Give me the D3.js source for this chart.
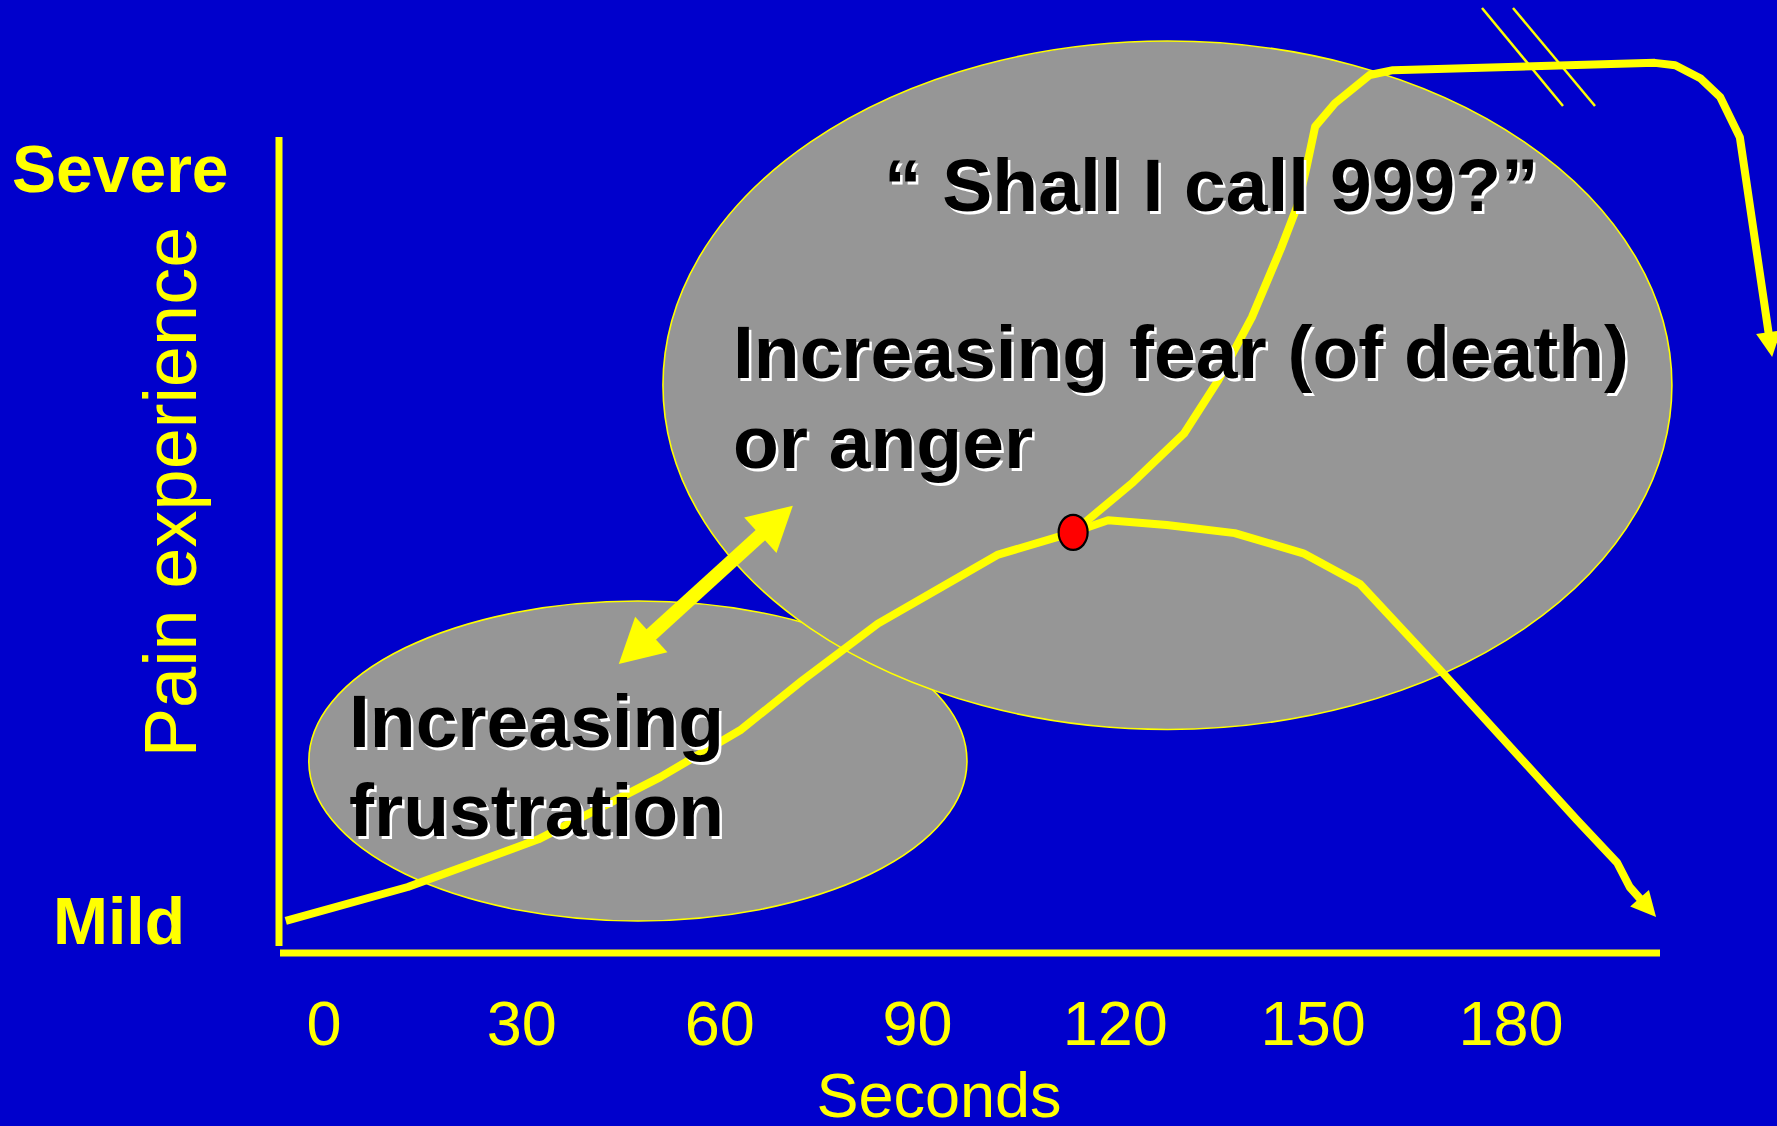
<!DOCTYPE html>
<html>
<head>
<meta charset="utf-8">
<script src="https://cdn.jsdelivr.net/npm/d3@7"></script>
<style>
  html, body { margin: 0; padding: 0; background: #0000cc; overflow: hidden; }
  svg { display: block; }
</style>
</head>
<body>
<svg id="chart" width="1777" height="1126"></svg>
<script>
// ---- data (x: seconds, y: pain experience, 0 = mild … 100 = severe) ----
const secondTicks = [0, 30, 60, 90, 120, 150, 180];
const painLabels = ["Mild", "Severe"];

// pain builds up until the turning point
const rising = [
  [-5.8, 3.1], [12.7, 7.3], [32.5, 13.2], [51.0, 20.9], [63.1, 26.7],
  [72.6, 32.9], [84.0, 39.9], [93.6, 44.4], [102.1, 48.4], [113.6, 51.2]
];
// escalation: pain keeps climbing off the scale
const escalation = [
  [113.6, 51.2], [122.7, 57.4], [130.4, 63.4], [135.6, 70.0], [140.7, 77.8],
  [145.1, 86.3], [147.7, 91.8], [149.0, 96.4], [150.3, 101.4], [153.3, 104.3],
  [158.6, 107.8], [162.1, 108.4], [201.8, 109.3], [204.9, 109.0], [208.7, 107.4],
  [211.7, 105.1], [214.7, 100.1], [219.6, 72.9]
];
// relief: pain eases off after the turning point
const relief = [
  [113.6, 51.2], [118.9, 52.7], [127.8, 52.1], [138.1, 51.1], [148.5, 48.6],
  [157.1, 44.8], [169.1, 34.3], [190.0, 15.6], [196.1, 10.3], [198.0, 7.3],
  [202.0, 3.6]
];
const turningPoint = [113.6, 51.2];

// emotional zones (centre and half-extent, in seconds / pain units)
const zoneFrustration = { cx: 47.6, cy: 22.9, rx: 49.9, ry: 19.8 };
const zoneFear = { cx: 127.9, cy: 69.4, rx: 76.5, ry: 42.6 };
const zoneLink = [[44.7, 34.9], [71.1, 54.5]];

// ---- layout ----
const W = 1777, H = 1126;
const BLUE = "#0000cc", YELLOW = "#ffff00", GREY = "#969696";
const FONT = "'Liberation Sans', Arial, Helvetica, sans-serif";

const svg = d3.select("#chart");
const x = d3.scaleLinear().domain([0, 180]).range([324, 1511]);
const y = d3.scaleLinear().domain([0, 100]).range([946, 138]);

svg.append("rect").attr("width", W).attr("height", H).attr("fill", BLUE);

// zones
function drawZone(z) {
  svg.append("ellipse")
    .attr("cx", x(z.cx)).attr("cy", y(z.cy))
    .attr("rx", x(z.cx + z.rx) - x(z.cx))
    .attr("ry", y(z.cy - z.ry) - y(z.cy))
    .attr("fill", GREY)
    .attr("stroke", YELLOW).attr("stroke-width", 1.6);
}
drawZone(zoneFrustration);
drawZone(zoneFear);

// axes
svg.append("line")
  .attr("x1", 279).attr("x2", 279).attr("y1", 137).attr("y2", 946)
  .attr("stroke", YELLOW).attr("stroke-width", 7);
svg.append("line")
  .attr("x1", 280).attr("x2", 1660).attr("y1", 953).attr("y2", 953)
  .attr("stroke", YELLOW).attr("stroke-width", 7);

// tick labels
svg.append("g").selectAll("text").data(secondTicks).join("text")
  .attr("x", d => x(d)).attr("y", 1045)
  .attr("text-anchor", "middle")
  .attr("font-family", FONT).attr("font-size", 63)
  .attr("fill", YELLOW)
  .text(d => d);

svg.append("text")
  .attr("x", 939).attr("y", 1117)
  .attr("text-anchor", "middle")
  .attr("font-family", FONT).attr("font-size", 63)
  .attr("fill", YELLOW).text("Seconds");

// pain scale labels
svg.append("text")
  .attr("x", 12).attr("y", 192)
  .attr("font-family", FONT).attr("font-weight", "bold").attr("font-size", 66)
  .attr("fill", YELLOW).text(painLabels[1]);
svg.append("text")
  .attr("x", 53).attr("y", 944)
  .attr("font-family", FONT).attr("font-weight", "bold").attr("font-size", 66)
  .attr("fill", YELLOW).text(painLabels[0]);
svg.append("text")
  .attr("transform", "translate(196,492) rotate(-90)")
  .attr("text-anchor", "middle")
  .attr("font-family", FONT).attr("font-size", 74)
  .attr("fill", YELLOW).text("Pain experience");

// curves with arrowheads
const line = d3.line().x(d => d[0]).y(d => d[1]).curve(d3.curveLinear);

function arrowHead(p0, p1, len, wid) {
  const dx = p1[0] - p0[0], dy = p1[1] - p0[1];
  const L = Math.hypot(dx, dy), ux = dx / L, uy = dy / L;
  const bx = p1[0] - ux * len, by = p1[1] - uy * len;
  return [[p1[0], p1[1]],
          [bx - uy * wid / 2, by + ux * wid / 2],
          [bx + uy * wid / 2, by - ux * wid / 2]];
}

function drawPath(data, withArrow) {
  const pts = data.map(d => [x(d[0]), y(d[1])]);
  const drawn = pts.slice();
  if (withArrow) {
    const n = pts.length;
    const p0 = pts[n - 2], p1 = pts[n - 1];
    const dx = p1[0] - p0[0], dy = p1[1] - p0[1];
    const L = Math.hypot(dx, dy);
    drawn[n - 1] = [p1[0] - dx / L * 14, p1[1] - dy / L * 14];
  }
  svg.append("path")
    .attr("d", line(drawn))
    .attr("fill", "none").attr("stroke", YELLOW)
    .attr("stroke-width", 8).attr("stroke-linejoin", "round");
  if (withArrow) {
    const n = pts.length;
    svg.append("polygon")
      .attr("points", arrowHead(pts[n - 2], pts[n - 1], 25, 25).map(p => p.join(",")).join(" "))
      .attr("fill", YELLOW);
  }
}
drawPath(rising, false);
drawPath(escalation, true);
drawPath(relief, true);

// double-headed link between the two zones
(function () {
  const a = [x(zoneLink[0][0]), y(zoneLink[0][1])];
  const b = [x(zoneLink[1][0]), y(zoneLink[1][1])];
  const dx = b[0] - a[0], dy = b[1] - a[1], L = Math.hypot(dx, dy);
  const ux = dx / L, uy = dy / L, head = 44;
  svg.append("line")
    .attr("x1", a[0] + ux * (head - 2)).attr("y1", a[1] + uy * (head - 2))
    .attr("x2", b[0] - ux * (head - 2)).attr("y2", b[1] - uy * (head - 2))
    .attr("stroke", YELLOW).attr("stroke-width", 14);
  [[a, b], [b, a]].forEach(([from, to]) => {
    svg.append("polygon")
      .attr("points", arrowHead(from, to, head, 48).map(p => p.join(",")).join(" "))
      .attr("fill", YELLOW);
  });
})();

// turning point
svg.append("ellipse")
  .attr("cx", x(turningPoint[0])).attr("cy", y(turningPoint[1]))
  .attr("rx", 14.5).attr("ry", 17.5)
  .attr("fill", "#ff0000").attr("stroke", "#000").attr("stroke-width", 2.2);

// shadowed captions
function caption(lines, x0, y0, lh) {
  const g = svg.append("g")
    .attr("font-family", FONT).attr("font-weight", "bold").attr("font-size", 75);
  lines.forEach((t, i) => {
    g.append("text").attr("x", x0 + 2.5).attr("y", y0 + i * lh + 2.5)
      .attr("fill", "#ffffff").text(t);
    g.append("text").attr("x", x0).attr("y", y0 + i * lh)
      .attr("fill", "#000000").text(t);
  });
}
caption(["\u201C Shall I call 999?\u201D"], 884, 211, 0);
caption(["Increasing fear (of death)", "or anger"], 733, 378, 90);
caption(["Increasing", "frustration"], 349, 747, 89);

// scale-break marks on the escalation curve
[[1482, 1563], [1513, 1595]].forEach(([x1, x2]) => {
  svg.append("line")
    .attr("x1", x1).attr("y1", 8).attr("x2", x2).attr("y2", 106)
    .attr("stroke", YELLOW).attr("stroke-width", 2.5);
});
</script>
</body>
</html>
